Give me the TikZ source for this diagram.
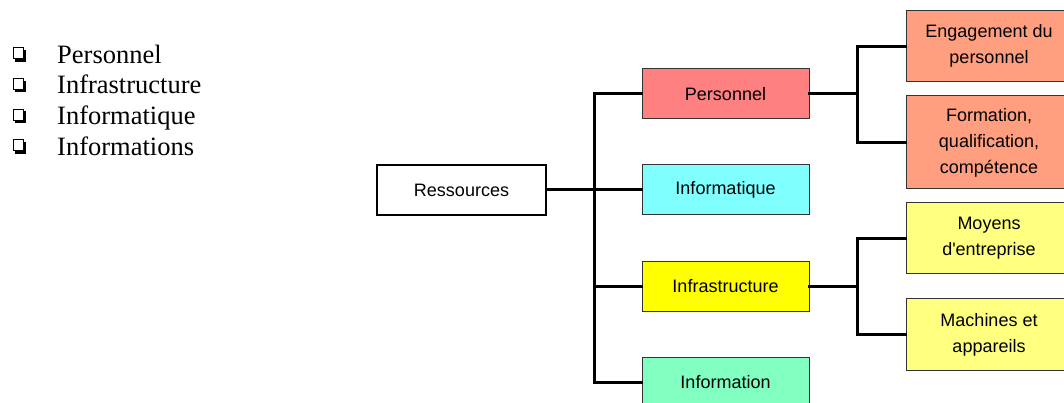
\documentclass[tikz,border=0pt]{standalone}
\usepackage{fontspec}
\setmainfont{Liberation Serif}
\newfontfamily\arialfont{Liberation Sans}
\definecolor{cPers}{HTML}{FF8080}
\definecolor{cInfo}{HTML}{80FFFF}
\definecolor{cInfra}{HTML}{FFFF00}
\definecolor{cInfom}{HTML}{80FFC0}
\definecolor{cSalmon}{HTML}{FF9F80}
\definecolor{cLYel}{HTML}{FFFF80}
\tikzset{
  box/.style={draw=black!80, line width=1pt, minimum width=167pt, inner sep=0pt,
    align=center, font=\arialfont\fontsize{18}{26}\selectfont},
  rootbox/.style={box, draw=black, line width=2pt, fill=white, minimum width=169pt, minimum height=50pt},
  midbox/.style={box, minimum height=50pt},
  leafbox/.style={box, minimum width=166pt},
  conn/.style={line width=3pt, line cap=rect},
  listtxt/.style={anchor=base west, inner sep=0pt, font=\fontsize{26.5}{30}\selectfont},
}
\begin{document}
\begin{tikzpicture}[x=1pt,y=-1pt]
\useasboundingbox (0,0) rectangle (1064,403);
\clip (0,0) rectangle (1064,403);
% list with checkboxes
\foreach \i/\t in {0/Personnel,1/Infrastructure,2/Informatique,3/Informations}{
  \pgfmathsetmacro{\dy}{30.7*\i}
  \begin{scope}[yshift=-\dy pt]
    \draw[line width=1pt] (13.2,47.8) rectangle (23.2,58.8);
    \fill (15,58.6) rectangle (26,61.8);
    \fill (23,50) rectangle (26,61.8);
    \node[listtxt] (list\i) at (57,63.3) {\t};
  \end{scope}
}
% nodes
\node[rootbox] (res) at (461.5,190) {Ressources};
\node[midbox, fill=cPers]  (pers)  at (725.5,94)  {Personnel};
\node[midbox, fill=cInfo]  (info)  at (725.5,190) {Informatique};
\node[midbox, fill=cInfra] (infra) at (725.5,286) {Infrastructure};
\node[midbox, fill=cInfom] (infom) at (725.5,382) {Information};
\node[leafbox, fill=cSalmon, minimum height=71pt] (eng)  at (989,46.3)  {Engagement du\\personnel};
\node[leafbox, fill=cSalmon, minimum height=93pt] (form) at (989,142.5) {Formation,\\qualification,\\compétence};
\node[leafbox, fill=cLYel, minimum height=71pt] (moy)  at (989,238.3) {Moyens\\d'entreprise};
\node[leafbox, fill=cLYel, minimum height=72pt] (mach) at (989,334.7) {Machines et\\appareils};
% connectors
\coordinate (tr) at (594,190);
\coordinate (pj) at (857,94);
\coordinate (ij) at (857,286);
\draw[conn] (res.east) -- (tr);
\draw[conn] (tr) |- (pers.west);
\draw[conn] (tr) -- (info.west);
\draw[conn] (tr) |- (infra.west);
\draw[conn] (tr) |- (infom.west);
\draw[conn] (pers.east) -- (pj);
\draw[conn] (pj) |- (eng.west);
\draw[conn] (pj) |- (form.west);
\draw[conn] (infra.east) -- (ij);
\draw[conn] (ij) |- (moy.west);
\draw[conn] (ij) |- (mach.west);
\end{tikzpicture}
\end{document}
